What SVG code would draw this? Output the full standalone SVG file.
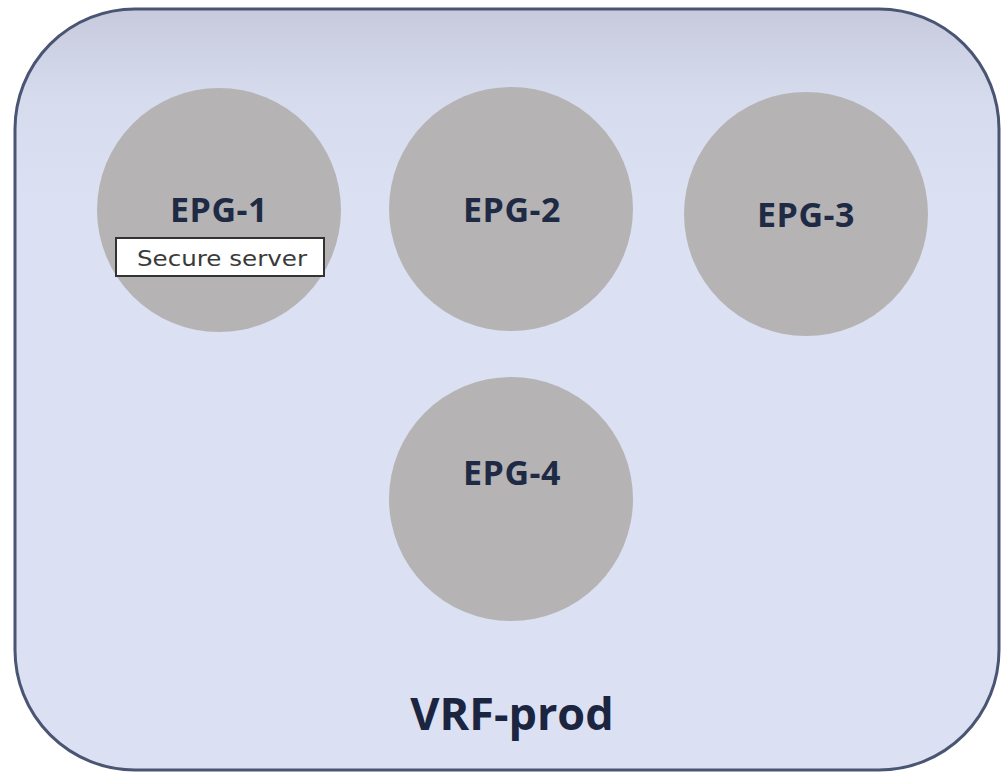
<svg xmlns="http://www.w3.org/2000/svg" width="1002" height="774" viewBox="0 0 1002 774">
<style>
.epg{fill:#b6b3b5}
.lbl{font-family:"Open Sans","Liberation Sans",sans-serif;font-weight:bold;font-size:34px;fill:#1f2a45;text-anchor:middle;letter-spacing:0.5px}
.tag{font-family:"DejaVu Sans","Liberation Sans",sans-serif;font-size:21px;fill:#3a3a3a;text-anchor:middle}
</style>
<defs>
<linearGradient id="bg" x1="0" y1="0" x2="0" y2="1">
<stop offset="0" stop-color="#c7cadc"/>
<stop offset="0.12" stop-color="#d6dcee"/>
<stop offset="0.25" stop-color="#dbe1f3"/>
<stop offset="1" stop-color="#dbe1f3"/>
</linearGradient>
</defs>
<rect width="1002" height="774" fill="#ffffff"/>
<g id="vrf">
<rect x="15" y="9" width="984" height="761" rx="120" ry="120" fill="url(#bg)" stroke="#4a5573" stroke-width="3"/>
<text x="512" y="730" font-family="'Open Sans','Liberation Sans',sans-serif" font-weight="bold" font-size="45" fill="#1c2540" text-anchor="middle">VRF-prod</text>
</g>
<g id="epg1">
<circle class="epg" cx="219" cy="210" r="122"/>
<text class="lbl" x="219" y="222">EPG-1</text>
<rect x="116" y="238" width="208" height="38" fill="#ffffff" stroke="#333" stroke-width="2"/>
<text class="tag" x="222" y="266" textLength="170" lengthAdjust="spacingAndGlyphs">Secure server</text>
</g>
<g id="epg2">
<circle class="epg" cx="511" cy="209" r="122"/>
<text class="lbl" x="512" y="222">EPG-2</text>
</g>
<g id="epg3">
<circle class="epg" cx="806" cy="214" r="122"/>
<text class="lbl" x="806" y="227">EPG-3</text>
</g>
<g id="epg4">
<circle class="epg" cx="511" cy="499" r="122"/>
<text class="lbl" x="512" y="485">EPG-4</text>
</g>
<g id="connectors"/>
</svg>
